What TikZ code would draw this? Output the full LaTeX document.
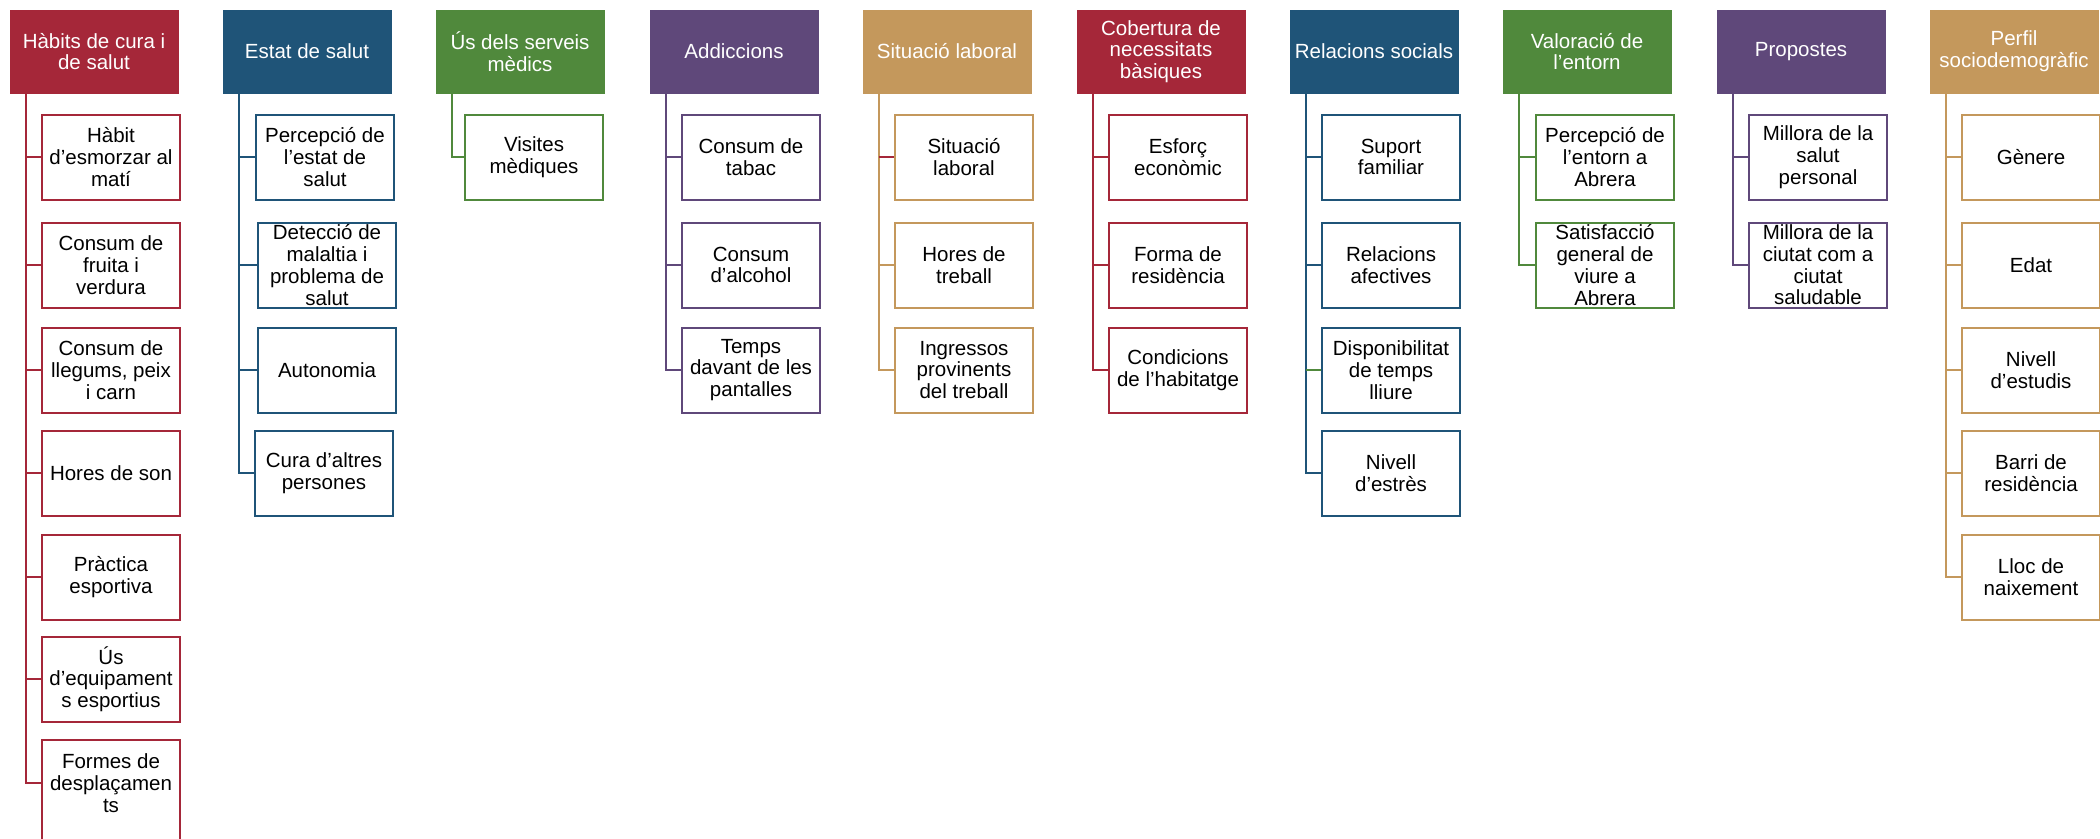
\documentclass[tikz,border=0pt]{standalone}
\usepackage{fontspec}
\setmainfont{Liberation Sans}
\usetikzlibrary{calc}
\definecolor{cred}{RGB}{165,39,57}
\definecolor{cblue}{RGB}{31,84,120}
\definecolor{cgreen}{RGB}{80,137,60}
\definecolor{cpurple}{RGB}{95,72,122}
\definecolor{cgold}{RGB}{196,152,92}
\tikzset{
  txt/.style={font=\fontsize{20.5}{21.7}\selectfont, align=center, inner sep=0pt},
  hdr/.style={txt, fill=#1, draw=#1, text=white, minimum width=168pt, minimum height=83pt},
  leafbox/.style={draw=#1, fill=white, line width=2pt, minimum width=138pt, minimum height=85pt, inner sep=0pt},
  lbl/.style={txt, text=black},
  link/.style={draw=#1, line width=2pt},
}
\newcommand\leafnode[5]{\node[leafbox=#1] (#2) at (#3,#4) {};\node[lbl] (#2t) at (#2.center) {#5};}
\begin{document}
\begin{tikzpicture}[x=1pt,y=-1pt]
\clip (0,0) rectangle (2100,838);
\fill[white] (0,0) rectangle (2100,838);
% headers
\node[hdr=cred]    (h1)  at (94,51.5)   {Hàbits de cura i\\de salut};
\node[hdr=cblue]   (h2)  at (307,51.5)  {Estat de salut};
\node[hdr=cgreen]  (h3)  at (520,51.5)  {Ús dels serveis\\mèdics};
\node[hdr=cpurple] (h4)  at (734,51.5)  {Addiccions};
\node[hdr=cgold]   (h5)  at (947,51.5)  {Situació laboral};
\node[hdr=cred]    (h6)  at (1161,51.5) {Cobertura de\\necessitats\\bàsiques};
\node[hdr=cblue]   (h7)  at (1374,51.5) {Relacions socials};
\node[hdr=cgreen]  (h8)  at (1587,51.5) {Valoració de\\l’entorn};
\node[hdr=cpurple] (h9)  at (1801,51.5) {Propostes};
\node[hdr=cgold]   (h10) at (2014,51.5) {Perfil\\sociodemogràfic};
\foreach \i in {1,...,10} {\coordinate (t\i) at ([xshift=16pt]h\i.south west);}
% column 1
\leafnode{cred}{c1-1}{111}{157}{Hàbit\\d’esmorzar al\\matí}
\leafnode{cred}{c1-2}{111}{265}{Consum de\\fruita i\\verdura}
\leafnode{cred}{c1-3}{111}{370}{Consum de\\llegums, peix\\i carn}
\leafnode{cred}{c1-4}{111}{473}{Hores de son}
\leafnode{cred}{c1-5}{111}{577}{Pràctica\\esportiva}
\leafnode{cred}{c1-6}{111}{679}{Ús\\d’equipament\\s esportius}
\node[minimum width=138pt, minimum height=85pt, inner sep=0pt] (c1-7) at (111,783) {};
\draw[cred, line width=2pt, fill=white] (c1-7.north west) rectangle ([yshift=-60pt]c1-7.south east);
\node[lbl] (c1-7t) at (c1-7.center) {Formes de\\desplaçamen\\ts};
% column 2
\leafnode{cblue}{c2-1}{325}{157}{Percepció de\\l’estat de\\salut}
\leafnode{cblue}{c2-2}{327}{265}{Detecció de\\malaltia i\\problema de\\salut}
\leafnode{cblue}{c2-3}{327}{370}{Autonomia}
\leafnode{cblue}{c2-4}{324}{473}{Cura d’altres\\persones}
% column 3
\leafnode{cgreen}{c3-1}{534}{157}{Visites\\mèdiques}
% column 4
\leafnode{cpurple}{c4-1}{751}{157}{Consum de\\tabac}
\leafnode{cpurple}{c4-2}{751}{265}{Consum\\d’alcohol}
\leafnode{cpurple}{c4-3}{751}{370}{Temps\\davant de les\\pantalles}
% column 5
\leafnode{cgold}{c5-1}{964}{157}{Situació\\laboral}
\leafnode{cgold}{c5-2}{964}{265}{Hores de\\treball}
\leafnode{cgold}{c5-3}{964}{370}{Ingressos\\provinents\\del treball}
% column 6
\leafnode{cred}{c6-1}{1178}{157}{Esforç\\econòmic}
\leafnode{cred}{c6-2}{1178}{265}{Forma de\\residència}
\leafnode{cred}{c6-3}{1178}{370}{Condicions\\de l’habitatge}
% column 7
\leafnode{cblue}{c7-1}{1391}{157}{Suport\\familiar}
\leafnode{cblue}{c7-2}{1391}{265}{Relacions\\afectives}
\leafnode{cblue}{c7-3}{1391}{370}{Disponibilitat\\de temps\\lliure}
\leafnode{cblue}{c7-4}{1391}{473}{Nivell\\d'estrès}
% column 8
\leafnode{cgreen}{c8-1}{1605}{157}{Percepció de\\l’entorn a\\Abrera}
\leafnode{cgreen}{c8-2}{1605}{265}{Satisfacció\\general de\\viure a\\Abrera}
% column 9
\leafnode{cpurple}{c9-1}{1818}{157}{Millora de la\\salut\\personal}
\leafnode{cpurple}{c9-2}{1818}{265}{Millora de la\\ciutat com a\\ciutat\\saludable}
% column 10
\leafnode{cgold}{c10-1}{2031}{157}{Gènere}
\leafnode{cgold}{c10-2}{2031}{265}{Edat}
\leafnode{cgold}{c10-3}{2031}{370}{Nivell\\d’estudis}
\leafnode{cgold}{c10-4}{2031}{473}{Barri de\\residència}
\leafnode{cgold}{c10-5}{2031}{577}{Lloc de\\naixement}
% connectors
\foreach \k in {1,...,7} {\draw[link=cred] (t1) |- (c1-\k.west);}
\foreach \k in {1,...,4} {\draw[link=cblue] (t2) |- (c2-\k.west);}
\draw[link=cgreen] (t3) |- (c3-1.west);
\foreach \k in {1,...,3} {\draw[link=cpurple] (t4) |- (c4-\k.west);}
\foreach \k in {1,...,3} {\draw[link=cgold] (t5) |- (c5-\k.west);}
\draw[link=cred] (c5-1.west -| t5) -- (c5-1.west);
\foreach \k in {1,...,3} {\draw[link=cred] (t6) |- (c6-\k.west);}
\foreach \k in {1,...,4} {\draw[link=cblue] (t7) |- (c7-\k.west);}
\draw[link=cgreen] (c7-3.west -| t7) -- (c7-3.west);
\foreach \k in {1,...,2} {\draw[link=cgreen] (t8) |- (c8-\k.west);}
\foreach \k in {1,...,2} {\draw[link=cpurple] (t9) |- (c9-\k.west);}
\foreach \k in {1,...,5} {\draw[link=cgold] (t10) |- (c10-\k.west);}
\end{tikzpicture}
\end{document}
